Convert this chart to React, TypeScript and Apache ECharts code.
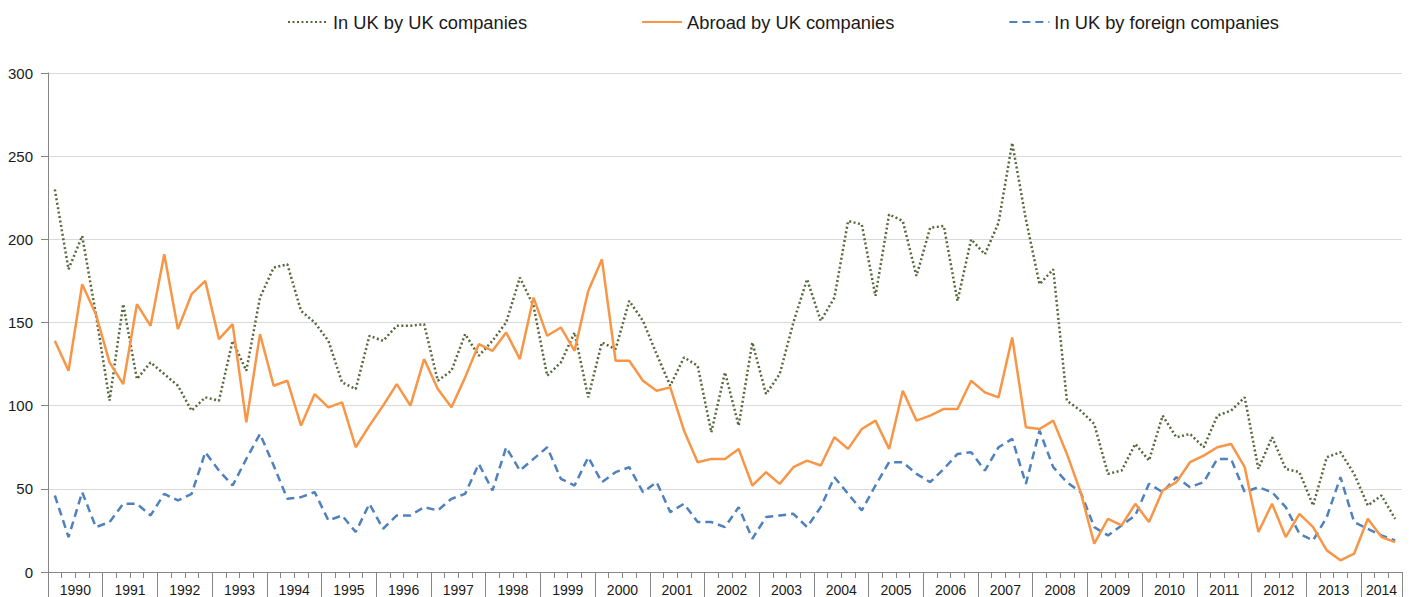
import React, { useEffect, useRef } from "react";
import * as echarts from "echarts";

const years = ["1990","1991","1992","1993","1994","1995","1996","1997","1998","1999","2000","2001","2002","2003","2004","2005","2006","2007","2008","2009","2010","2011","2012","2013","2014"];

const ukByUk = [
  230, 182, 202, 155,
  103, 161, 116, 126,
  119, 112, 97, 105,
  103, 139, 121, 165,
  183, 185, 157, 150,
  139, 114, 110, 142,
  139, 148, 148, 149,
  115, 121, 143, 130,
  139, 150, 177, 160,
  118, 126, 144, 105,
  138, 134, 163, 151,
  131, 112, 129, 124,
  84, 120, 88, 138,
  107, 119, 150, 176,
  151, 165, 211, 209,
  166, 215, 211, 178,
  207, 208, 163, 200,
  191, 210, 258, 212,
  173, 182, 103, 97,
  89, 59, 61, 77,
  67, 94, 81, 83,
  75, 94, 97, 105,
  62, 81, 62, 60,
  40, 69, 72, 59,
  40, 46, 32,
];

const abroadByUk = [
  139, 121, 173, 155,
  126, 113, 161, 148,
  191, 146, 167, 175,
  140, 149, 90, 143,
  112, 115, 88, 107,
  99, 102, 75, 88,
  100, 113, 100, 128,
  110, 99, 117, 137,
  133, 144, 128, 165,
  142, 147, 133, 169,
  188, 127, 127, 115,
  109, 111, 85, 66,
  68, 68, 74, 52,
  60, 53, 63, 67,
  64, 81, 74, 86,
  91, 74, 109, 91,
  94, 98, 98, 115,
  108, 105, 141, 87,
  86, 91, 71, 48,
  17, 32, 28, 41,
  30, 49, 54, 66,
  70, 75, 77, 63,
  24, 41, 21, 35,
  27, 13, 7, 11,
  32, 21, 18,
];

const ukByForeign = [
  46, 21, 48, 27,
  30, 41, 41, 34,
  47, 43, 47, 72,
  61, 52, 68, 83,
  64, 44, 45, 48,
  31, 34, 24, 41,
  26, 34, 34, 39,
  37, 44, 47, 65,
  49, 75, 61, 68,
  75, 56, 52, 69,
  54, 60, 63, 48,
  54, 36, 41, 30,
  30, 27, 39, 20,
  33, 34, 35, 27,
  39, 57, 47, 37,
  52, 66, 66, 59,
  54, 62, 71, 72,
  61, 75, 80, 53,
  85, 63, 54, 48,
  27, 22, 28, 34,
  53, 48, 57, 51,
  54, 68, 68, 48,
  51, 48, 39, 23,
  19, 33, 57, 30,
  26, 22, 19,
];

const seriesNames = ["In UK by UK companies", "Abroad by UK companies", "In UK by foreign companies"];

const N = ukByUk.length;
const quarterCategories = ukByUk.map((_, i) => `${years[Math.floor(i / 4)]} Q${(i % 4) + 1}`);
// half-quarter slots used only to place year labels at the centre of each year band
const yearSlots: string[] = Array.from({ length: 2 * N + 1 }, () => "");
years.forEach((y, k) => {
  const start = 4 * k;
  const count = Math.min(4, N - start);
  if (count > 0) yearSlots[2 * start + count] = y;
});

const FONT = "'Liberation Sans', Arial, sans-serif";

export default function App() {
  const ref = useRef<HTMLDivElement>(null);
  useEffect(() => {
    if (!ref.current) return;
    const chart = echarts.init(ref.current, null, { renderer: "svg" });
    chart.setOption({
      animation: false,
      backgroundColor: "#ffffff",
      textStyle: { fontFamily: FONT },
      legend: {
        top: 8,
        left: 282,
        itemWidth: 40,
        itemHeight: 14,
        itemGap: 114,
        itemStyle: { opacity: 0 },
        textStyle: { fontSize: 18.3, color: "#1a1a1a", fontFamily: FONT },
        data: seriesNames,
      },
      grid: { left: 48, right: 7, top: 73, bottom: 25, containLabel: false },
      xAxis: [
        {
          type: "category",
          data: quarterCategories,
          boundaryGap: true,
          axisLine: { show: true, lineStyle: { color: "#868686", width: 1 } },
          axisTick: { show: true, interval: 0, length: 6, lineStyle: { color: "#868686" } },
          axisLabel: { show: false },
          splitLine: { show: false },
        },
        {
          type: "category",
          data: yearSlots,
          boundaryGap: false,
          position: "bottom",
          axisLine: { show: false },
          axisTick: {
            show: true,
            length: 26,
            interval: (i: number) => i % 8 === 0 || i === 2 * N,
            lineStyle: { color: "#868686" },
          },
          axisLabel: {
            show: true,
            interval: (_i: number, v: string) => v !== "",
            margin: 11,
            fontSize: 14,
            color: "#1a1a1a",
            fontFamily: FONT,
          },
          splitLine: { show: false },
        },
      ],
      yAxis: {
        type: "value",
        min: 0,
        max: 300,
        interval: 50,
        axisLine: { show: true, lineStyle: { color: "#868686" } },
        axisTick: { show: true, length: 7, lineStyle: { color: "#868686" } },
        axisLabel: { margin: 15, fontSize: 15, color: "#1a1a1a", fontFamily: FONT },
        splitLine: { show: true, lineStyle: { color: "#d9d9d9", width: 1 } },
      },
      series: [
        {
          name: seriesNames[0],
          type: "line",
          data: ukByUk,
          xAxisIndex: 0,
          symbol: "none",
          color: "#56683a",
          lineStyle: { color: "#56683a", width: 2.5, type: [2, 2.5] },
          z: 3,
        },
        {
          name: seriesNames[1],
          type: "line",
          data: abroadByUk,
          xAxisIndex: 0,
          symbol: "none",
          color: "#F79646",
          lineStyle: { color: "#F79646", width: 2.5 },
          z: 4,
        },
        {
          name: seriesNames[2],
          type: "line",
          data: ukByForeign,
          xAxisIndex: 0,
          symbol: "none",
          color: "#4F81BD",
          lineStyle: { color: "#4F81BD", width: 2.5, type: [8, 5] },
          z: 2,
        },
      ],
    });
    return () => chart.dispose();
  }, []);
  return (
    <div
      ref={ref}
      style={{ position: "fixed", left: 0, top: 0, width: 1409, height: 597 }}
    />
  );
}
